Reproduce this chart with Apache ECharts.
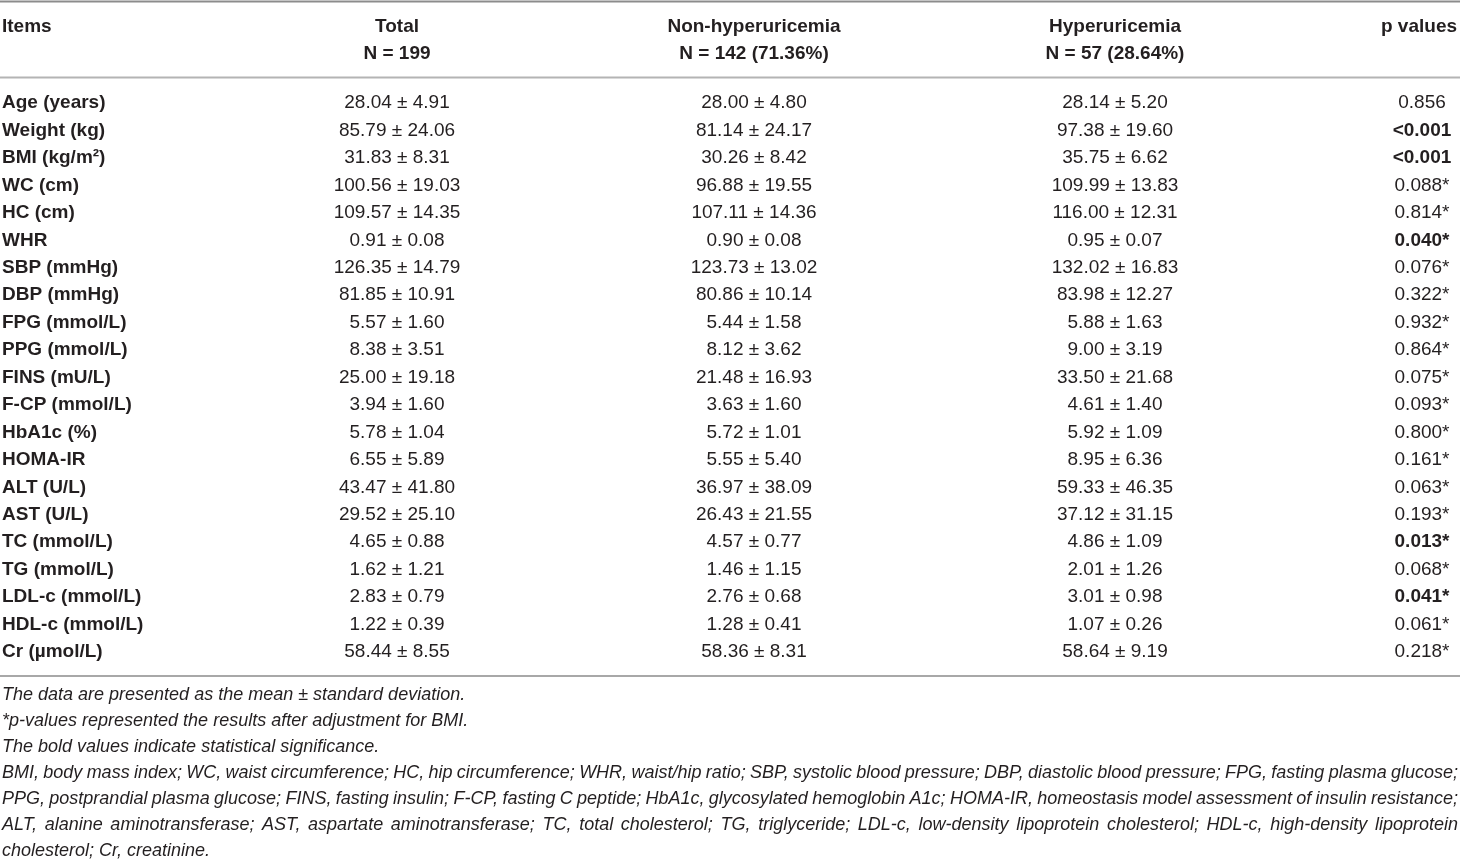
<!DOCTYPE html>
<html lang="en">
<head>
  <meta charset="UTF-8">
  <title>Baseline characteristics</title>
  <style>
    * { margin: 0; padding: 0; box-sizing: border-box; }
    html, body { width: 1460px; height: 861px; background: #fff; overflow: hidden; }
    #table { width: 1460px; height: 861px; }
  </style>
</head>
<body>
  <div id="table"></div>

  <script src="https://cdn.jsdelivr.net/npm/echarts@6/dist/echarts.min.js"></script>
  <script>
    // table content
    const columns = ['Items', 'Total', 'Non-hyperuricemia', 'Hyperuricemia', 'p values'];
    const groupSizes = ['', 'N = 199', 'N = 142 (71.36%)', 'N = 57 (28.64%)', ''];

    const items = [
      'Age (years)', 'Weight (kg)', 'BMI (kg/m²)', 'WC (cm)', 'HC (cm)', 'WHR',
      'SBP (mmHg)', 'DBP (mmHg)', 'FPG (mmol/L)', 'PPG (mmol/L)', 'FINS (mU/L)',
      'F-CP (mmol/L)', 'HbA1c (%)', 'HOMA-IR', 'ALT (U/L)', 'AST (U/L)',
      'TC (mmol/L)', 'TG (mmol/L)', 'LDL-c (mmol/L)', 'HDL-c (mmol/L)', 'Cr (µmol/L)'
    ];
    const totalVals = [
      '28.04 ± 4.91', '85.79 ± 24.06', '31.83 ± 8.31', '100.56 ± 19.03', '109.57 ± 14.35',
      '0.91 ± 0.08', '126.35 ± 14.79', '81.85 ± 10.91', '5.57 ± 1.60', '8.38 ± 3.51',
      '25.00 ± 19.18', '3.94 ± 1.60', '5.78 ± 1.04', '6.55 ± 5.89', '43.47 ± 41.80',
      '29.52 ± 25.10', '4.65 ± 0.88', '1.62 ± 1.21', '2.83 ± 0.79', '1.22 ± 0.39', '58.44 ± 8.55'
    ];
    const nonHyperVals = [
      '28.00 ± 4.80', '81.14 ± 24.17', '30.26 ± 8.42', '96.88 ± 19.55', '107.11 ± 14.36',
      '0.90 ± 0.08', '123.73 ± 13.02', '80.86 ± 10.14', '5.44 ± 1.58', '8.12 ± 3.62',
      '21.48 ± 16.93', '3.63 ± 1.60', '5.72 ± 1.01', '5.55 ± 5.40', '36.97 ± 38.09',
      '26.43 ± 21.55', '4.57 ± 0.77', '1.46 ± 1.15', '2.76 ± 0.68', '1.28 ± 0.41', '58.36 ± 8.31'
    ];
    const hyperVals = [
      '28.14 ± 5.20', '97.38 ± 19.60', '35.75 ± 6.62', '109.99 ± 13.83', '116.00 ± 12.31',
      '0.95 ± 0.07', '132.02 ± 16.83', '83.98 ± 12.27', '5.88 ± 1.63', '9.00 ± 3.19',
      '33.50 ± 21.68', '4.61 ± 1.40', '5.92 ± 1.09', '8.95 ± 6.36', '59.33 ± 46.35',
      '37.12 ± 31.15', '4.86 ± 1.09', '2.01 ± 1.26', '3.01 ± 0.98', '1.07 ± 0.26', '58.64 ± 9.19'
    ];
    const pValues = [
      '0.856', '<0.001', '<0.001', '0.088*', '0.814*', '0.040*', '0.076*', '0.322*',
      '0.932*', '0.864*', '0.075*', '0.093*', '0.800*', '0.161*', '0.063*', '0.193*',
      '0.013*', '0.068*', '0.041*', '0.061*', '0.218*'
    ];

    const notes = [
      'The data are presented as the mean ± standard deviation.',
      '*p-values represented the results after adjustment for BMI.',
      'The bold values indicate statistical significance.',
      'BMI, body mass index; WC, waist circumference; HC, hip circumference; WHR, waist/hip ratio; SBP, systolic blood pressure; DBP, diastolic blood pressure; FPG, fasting plasma glucose;',
      'PPG, postprandial plasma glucose; FINS, fasting insulin; F-CP, fasting C peptide; HbA1c, glycosylated hemoglobin A1c; HOMA-IR, homeostasis model assessment of insulin resistance;',
      'ALT, alanine aminotransferase; AST, aspartate aminotransferase; TC, total cholesterol; TG, triglyceride; LDL-c, low-density lipoprotein cholesterol; HDL-c, high-density lipoprotein',
      'cholesterol; Cr, creatinine.'
    ];
    // which note lines are set justified to the full width
    const justified = [false, false, false, true, true, true, false];

    // layout
    const W = 1460;
    const FAMILY = '"Liberation Sans", Arial, sans-serif';
    const TEXT = '#231f20';
    const colX = [2, 397, 754, 1115, 1422];
    const colAlign = ['left', 'center', 'center', 'center', 'center'];
    const bodyTop = 89.3;
    const rowStep = 27.45;
    const headY = [27, 54];
    const rules = [{ y: 1.5, c: '#8c8c8c' }, { y: 77.5, c: '#b4b4b4' }, { y: 676, c: '#a8a8a8' }];
    const noteTop = 695;
    const noteStep = 26;
    const noteFont = 'italic 18px "Liberation Sans"';

    const isSignificant = p => parseFloat(p.replace(/[<*]/g, '')) < 0.05;

    // one record per body cell
    const colsData = [items, totalVals, nonHyperVals, hyperVals, pValues];
    const cells = [];
    items.forEach((_, r) => {
      colsData.forEach((col, c) => {
        const bold = c === 0 || (c === 4 && isSignificant(col[r]));
        cells.push({ value: [colX[c], r, c], text: col[r], bold: bold });
      });
    });

    const chart = echarts.init(document.getElementById('table'), null, { renderer: 'canvas' });

    // header + rules + footnotes
    const graphic = [];
    rules.forEach(l => {
      graphic.push({
        type: 'line', silent: true,
        shape: { x1: 0, y1: l.y, x2: W, y2: l.y },
        style: { stroke: l.c, lineWidth: 2 }
      });
    });
    columns.forEach((name, c) => {
      const lines = groupSizes[c] ? [name, groupSizes[c]] : [name];
      const x = c === 4 ? 1419 : colX[c];
      lines.forEach((t, k) => {
        graphic.push({
          type: 'text', silent: true, x: x, y: headY[k],
          style: {
            text: t, fill: TEXT, fontFamily: FAMILY, fontSize: 19, fontWeight: 'bold',
            align: colAlign[c], verticalAlign: 'middle'
          }
        });
      });
    });

    const ctx = document.createElement('canvas').getContext('2d');
    ctx.font = noteFont;
    notes.forEach((line, i) => {
      const y = noteTop + i * noteStep;
      const base = { fill: TEXT, fontFamily: '"Liberation Sans"', fontSize: 18, fontStyle: 'italic', verticalAlign: 'middle' };
      if (!justified[i]) {
        graphic.push({ type: 'text', silent: true, x: 2, y: y, style: Object.assign({ text: line, align: 'left' }, base) });
        return;
      }
      const words = line.split(' ');
      const widths = words.map(w => ctx.measureText(w).width);
      const sum = widths.reduce((a, b) => a + b, 0);
      const gap = (W - 4 - sum) / (words.length - 1);
      let x = 2;
      words.forEach((w, k) => {
        graphic.push({ type: 'text', silent: true, x: x, y: y, style: Object.assign({ text: w, align: 'left' }, base) });
        x += widths[k] + gap;
      });
    });

    chart.setOption({
      animation: false,
      grid: { left: 0, right: 0, top: bodyTop, height: rowStep * items.length },
      xAxis: { type: 'value', min: 0, max: W, show: false },
      yAxis: { type: 'category', data: items, inverse: true, show: false },
      graphic: graphic,
      series: [{
        type: 'custom',
        coordinateSystem: 'cartesian2d',
        encode: { x: 0, y: 1 },
        data: cells,
        renderItem: function (params, api) {
          const cell = cells[params.dataIndex];
          const p = api.coord([api.value(0), api.value(1)]);
          return {
            type: 'text',
            x: p[0], y: p[1],
            style: {
              text: cell.text,
              fill: TEXT,
              fontFamily: FAMILY,
              fontSize: 19,
              fontWeight: cell.bold ? 'bold' : 'normal',
              align: colAlign[api.value(2)],
              verticalAlign: 'middle'
            }
          };
        }
      }]
    });
  </script>
</body>
</html>
